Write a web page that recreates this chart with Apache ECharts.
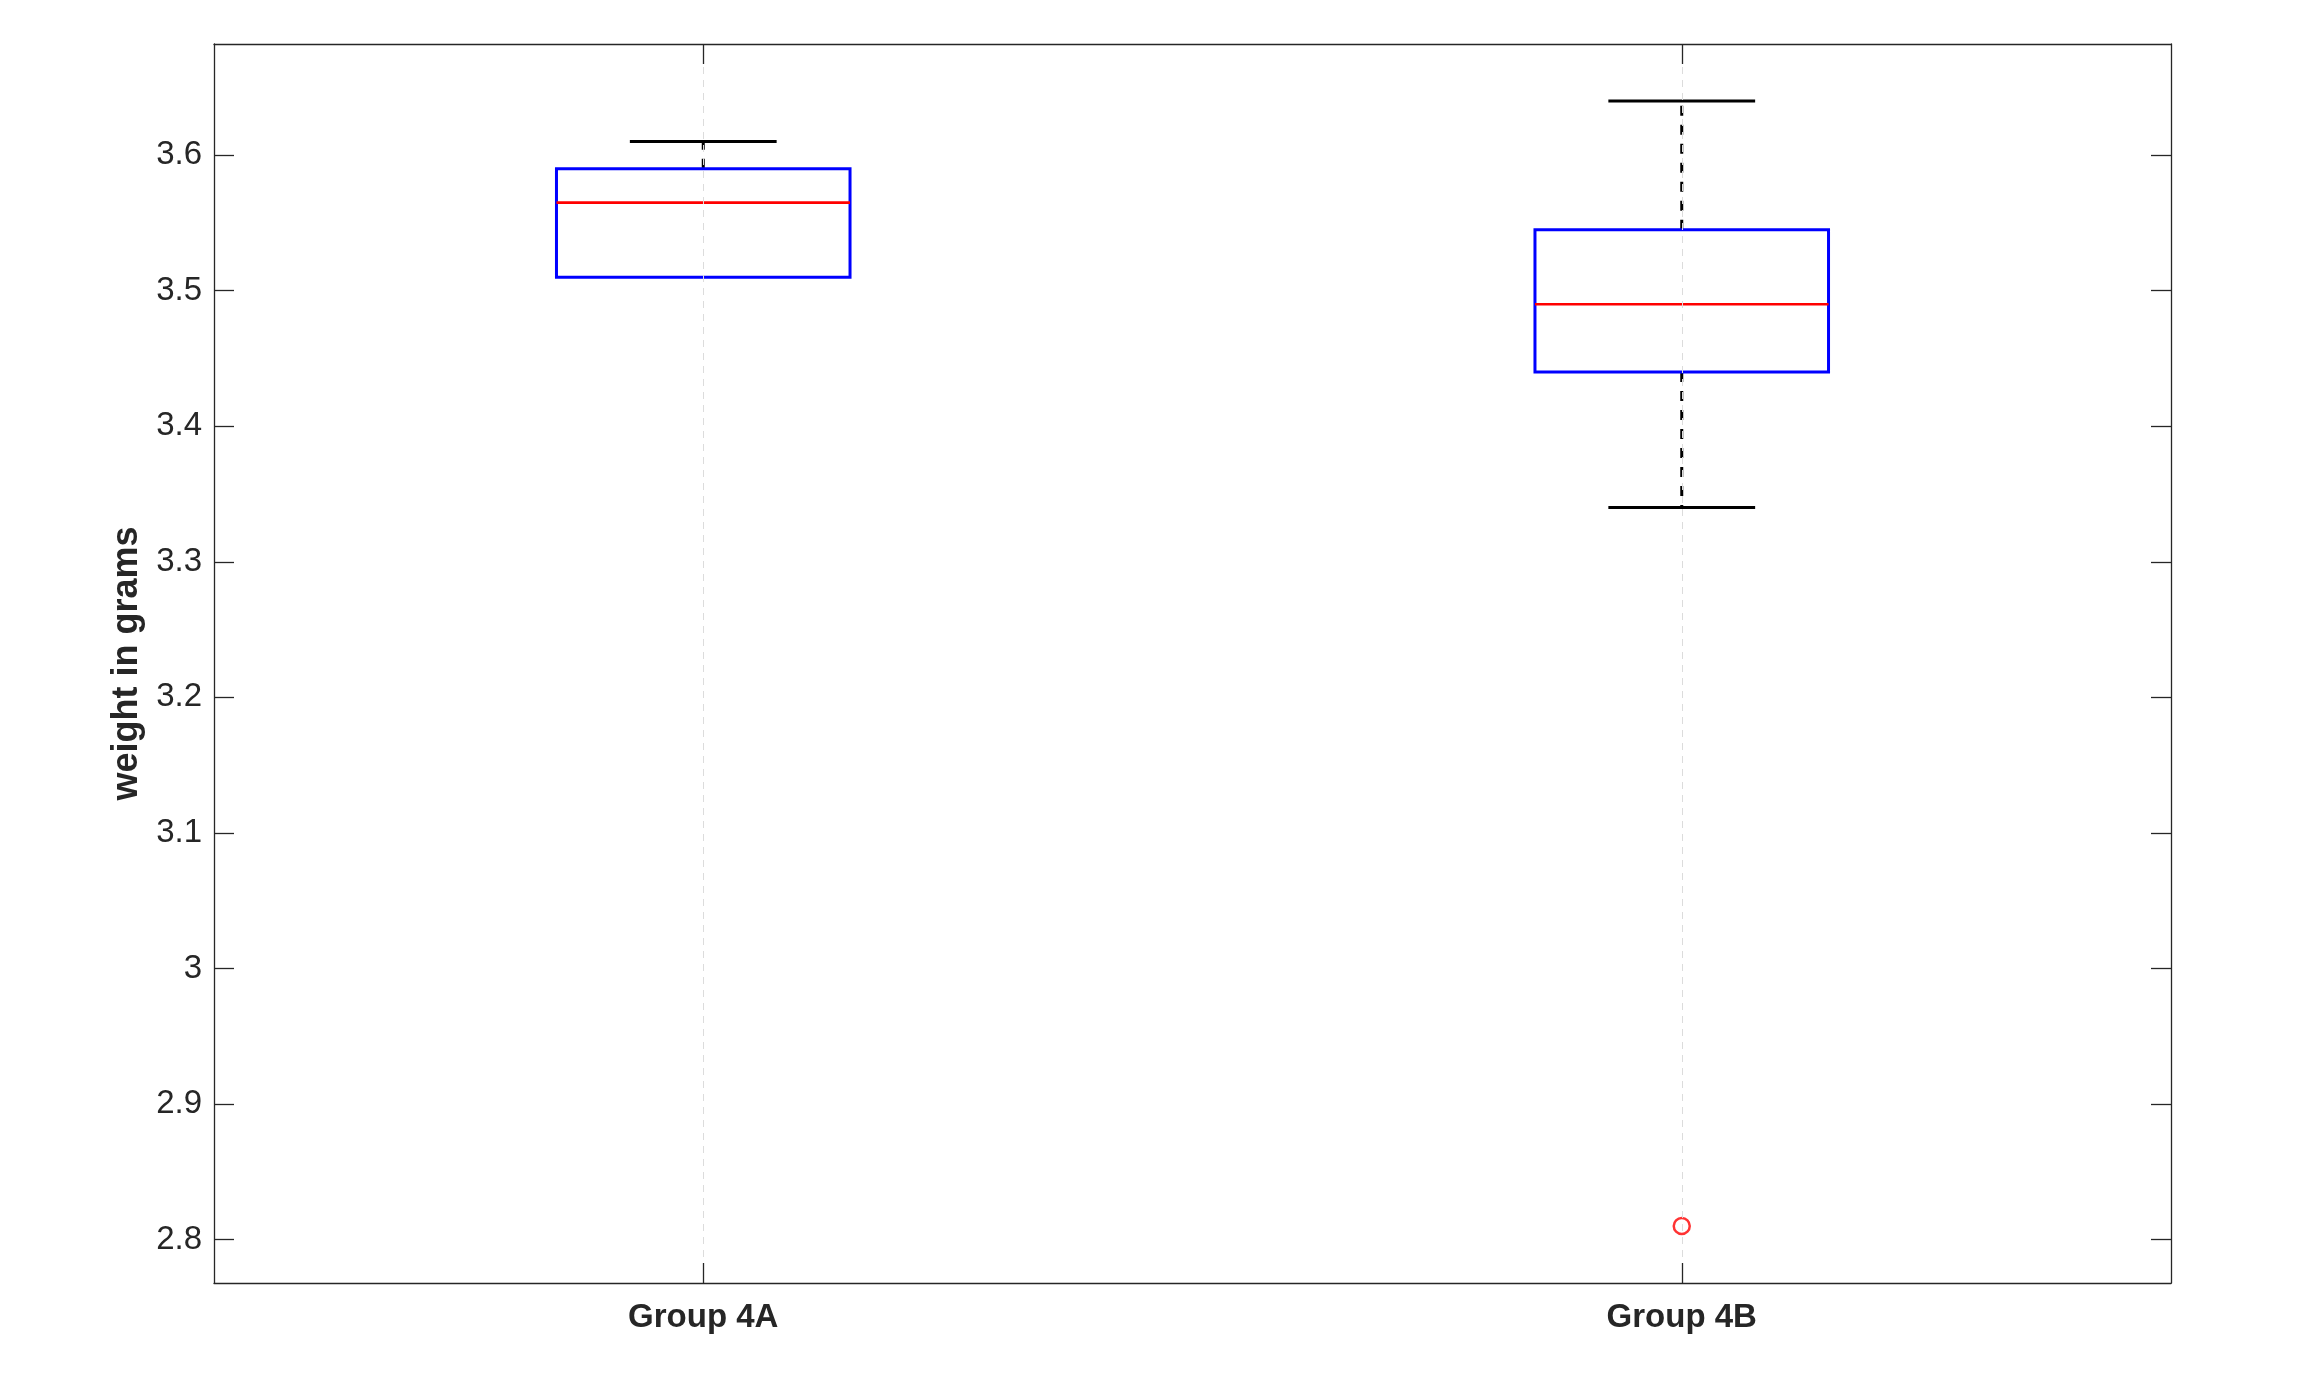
<!DOCTYPE html>
<html><head><meta charset="utf-8">
<script src="https://cdn.jsdelivr.net/npm/echarts@6/dist/echarts.min.js"></script>
<style>html,body{margin:0;padding:0;background:#fff}#c{width:2297px;height:1382px}</style>
</head><body><div id="c"></div>
<script>
const categories = ['Group 4A', 'Group 4B'];
const lowerWhisker = [3.51, 3.34];
const q1 = [3.51, 3.44];
const median = [3.565, 3.49];
const q3 = [3.59, 3.545];
const upperWhisker = [3.61, 3.64];
const outlierCategories = ['Group 4B'];
const outlierValues = [2.81];
const yTicks = [2.8, 2.9, 3, 3.1, 3.2, 3.3, 3.4, 3.5, 3.6];
const yMin = 2.768, yMax = 3.682;
const yTitle = 'weight in grams';

const FONT = '"Liberation Sans", Arial, Helvetica, sans-serif';
const AX = '#262626';

const boxData = categories.map((c, i) => [i, lowerWhisker[i], q1[i], median[i], q3[i], upperWhisker[i]]);
const outlierData = outlierCategories.map((c, i) => [c, outlierValues[i]]);

function renderItem(params, api) {
  const ci = api.value(0);
  const band = api.size([1, 0])[0];
  const halfBox = band * 0.15;
  const halfCap = halfBox / 2;
  const vLo = api.value(1), vQ1 = api.value(2), vQ3 = api.value(4), vHi = api.value(5);
  const pLo = api.coord([ci, vLo]);
  const pQ1 = api.coord([ci, vQ1]);
  const pMed = api.coord([ci, api.value(3)]);
  const pQ3 = api.coord([ci, vQ3]);
  const pHi = api.coord([ci, vHi]);
  const cx = pMed[0];
  const solid = { stroke: '#000', lineWidth: 3 };
  const dashed = { stroke: '#000', lineWidth: 3, lineDash: [10, 9] };
  const children = [];
  if (vHi > vQ3) {
    children.push({ type: 'line', shape: { x1: cx, y1: pQ3[1], x2: cx, y2: pHi[1] }, style: dashed });
    children.push({ type: 'line', shape: { x1: cx - halfCap, y1: pHi[1], x2: cx + halfCap, y2: pHi[1] }, style: solid });
  }
  if (vLo < vQ1) {
    children.push({ type: 'line', shape: { x1: cx, y1: pQ1[1], x2: cx, y2: pLo[1] }, style: dashed });
    children.push({ type: 'line', shape: { x1: cx - halfCap, y1: pLo[1], x2: cx + halfCap, y2: pLo[1] }, style: solid });
  }
  children.push({ type: 'rect', shape: { x: cx - halfBox, y: pQ3[1], width: 2 * halfBox, height: pQ1[1] - pQ3[1] },
    style: { fill: 'transparent', stroke: '#0000ff', lineWidth: 3 } });
  children.push({ type: 'line', shape: { x1: cx - halfBox, y1: pMed[1], x2: cx + halfBox, y2: pMed[1] },
    style: { stroke: '#ff0000', lineWidth: 2.7 } });
  return { type: 'group', children: children };
}

const tickStyle = { color: AX, width: 1.3 };
const chart = echarts.init(document.getElementById('c'), null, { renderer: 'canvas' });
chart.setOption({
  animation: false,
  backgroundColor: '#ffffff',
  grid: { left: 214, right: 126, top: 44, bottom: 99, containLabel: false },
  xAxis: [
    {
      type: 'category', data: categories, position: 'bottom', boundaryGap: true, z: 10,
      axisLine: { show: true, onZero: false, lineStyle: tickStyle },
      axisTick: { show: true, inside: true, alignWithLabel: true, length: 20, lineStyle: tickStyle },
      axisLabel: { show: true, fontSize: 33, fontWeight: 'bold', color: AX, fontFamily: FONT, margin: 18 },
      splitLine: { show: false }
    },
    {
      type: 'category', data: categories, position: 'top', boundaryGap: true, z: 10,
      axisLine: { show: true, onZero: false, lineStyle: tickStyle },
      axisTick: { show: true, inside: true, alignWithLabel: true, length: 20, lineStyle: tickStyle },
      axisLabel: { show: false },
      splitLine: { show: false }
    }
  ],
  yAxis: [
    {
      type: 'value', min: yMin, max: yMax, position: 'left', z: 10,
      name: yTitle, nameLocation: 'middle', nameGap: 62, nameRotate: 90,
      nameTextStyle: { fontSize: 36, fontWeight: 'bold', color: AX, fontFamily: FONT },
      axisLine: { show: true, onZero: false, lineStyle: tickStyle },
      axisTick: { show: true, inside: true, length: 20, customValues: yTicks, lineStyle: tickStyle },
      axisLabel: { show: true, customValues: yTicks, fontSize: 33, color: AX, fontFamily: FONT, margin: 12 },
      splitLine: { show: false }
    },
    {
      type: 'value', min: yMin, max: yMax, position: 'right', z: 10,
      axisLine: { show: true, onZero: false, lineStyle: tickStyle },
      axisTick: { show: true, inside: true, length: 20, customValues: yTicks, lineStyle: tickStyle },
      axisLabel: { show: false, customValues: yTicks },
      splitLine: { show: false }
    }
  ],
  series: [
    {
      type: 'line', xAxisIndex: 0, yAxisIndex: 0, data: [], z: 1, silent: true,
      markLine: {
        silent: true, symbol: ['none', 'none'], label: { show: false },
        lineStyle: { color: '#dcdcdc', type: [7, 6], width: 1 },
        data: categories.map(c => ({ xAxis: c }))
      }
    },
    {
      type: 'custom', xAxisIndex: 0, yAxisIndex: 0, z: 3,
      renderItem: renderItem,
      encode: { x: 0, y: [1, 2, 3, 4, 5] },
      data: boxData
    },
    {
      type: 'scatter', xAxisIndex: 0, yAxisIndex: 0, z: 4,
      symbol: 'circle', symbolSize: 16,
      itemStyle: { color: 'rgba(0,0,0,0)', borderColor: '#ff0000', borderWidth: 2.5 },
      data: outlierData
    }
  ]
});
</script>
</body></html>
